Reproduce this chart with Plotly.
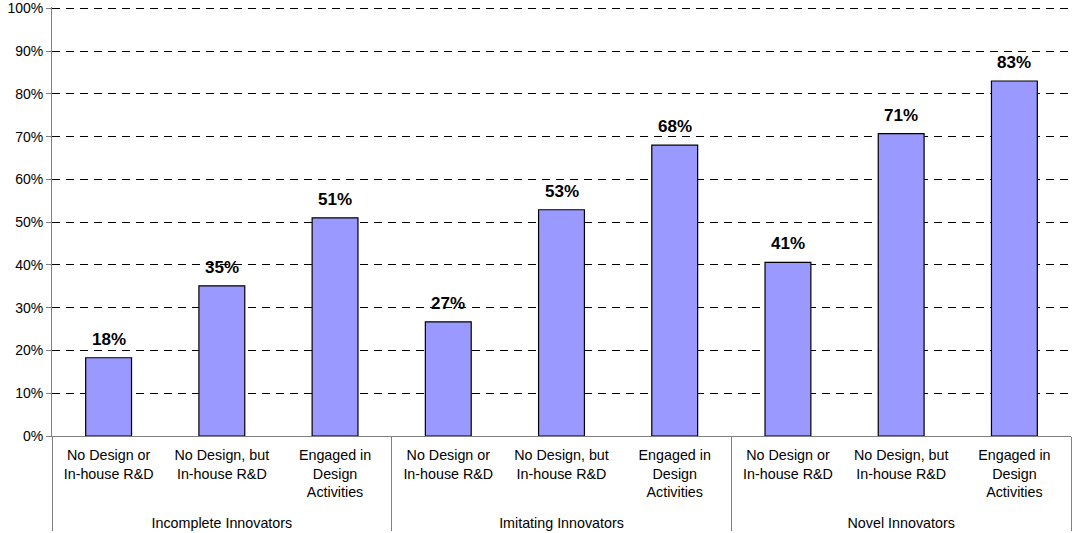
import plotly.graph_objects as go

groups = ["Incomplete Innovators"] * 3 + ["Imitating Innovators"] * 3 + ["Novel Innovators"] * 3
categories = ["No Design or<br>In-house R&D", "No Design, but<br>In-house R&D", "Engaged in<br>Design<br>Activities<br>&nbsp;"] * 3
values = [0.183, 0.351, 0.51, 0.267, 0.529, 0.68, 0.406, 0.707, 0.83]
labels = [f"{round(v * 100)}%" for v in values]
y_ticks = [i / 10 for i in range(11)]

FONT = "Liberation Sans, Arial, sans-serif"

fig = go.Figure(
    go.Bar(
        x=[groups, categories],
        y=values,
        width=0.405,
        marker=dict(color="#9999FF", line=dict(color="#000000", width=1.2)),
        hoverinfo="y",
    )
)

for i, (v, t) in enumerate(zip(values, labels)):
    fig.add_annotation(
        x=i, y=v, text=t, showarrow=False,
        yanchor="bottom", yshift=7,
        font=dict(family=FONT, size=17, color="#000000", weight="bold"),
    )

fig.update_layout(
    width=1073,
    height=533,
    margin=dict(l=52, r=2, t=7, b=97),
    paper_bgcolor="white",
    plot_bgcolor="white",
    showlegend=False,
    font=dict(family=FONT, color="#000000"),
    xaxis=dict(
        type="multicategory",
        automargin=False,
        showgrid=False,
        showline=True,
        linecolor="#808080",
        linewidth=1,
        ticks="",
        ticklabelstandoff=6,
        tickfont=dict(size=14.3, color="#000000"),
        showdividers=True,
        dividercolor="#808080",
        dividerwidth=1,
    ),
    yaxis=dict(
        range=[0, 1.003],
        automargin=False,
        tickvals=y_ticks,
        tickformat=".0%",
        showgrid=True,
        gridcolor="#000000",
        gridwidth=1,
        griddash="8px,6px",
        zeroline=False,
        showline=True,
        linecolor="#808080",
        linewidth=1,
        ticks="outside",
        ticklen=5,
        tickcolor="#808080",
        tickfont=dict(size=14, color="#000000"),
    ),
)

fig.write_html("out.html")
